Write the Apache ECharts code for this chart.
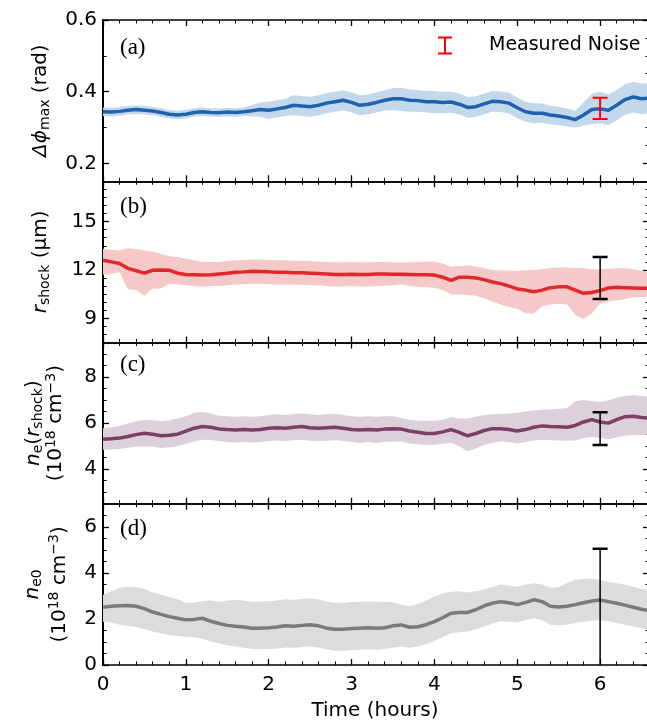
<!DOCTYPE html>
<html><head><meta charset="utf-8">
<script src="https://cdn.jsdelivr.net/npm/echarts@6/dist/echarts.min.js"></script>
<style>html,body{margin:0;padding:0;background:#fff}#c{width:647px;height:723px}</style>
</head><body><div id="c"></div>
<script>
// ---------------- data ----------------
const times = [0,0.1,0.2,0.3,0.4,0.5,0.6,0.7,0.8,0.9,1,1.1,1.2,1.3,1.4,1.5,1.6,1.7,1.8,1.9,2,2.1,2.2,2.3,2.4,2.5,2.6,2.7,2.8,2.9,3,3.1,3.2,3.3,3.4,3.5,3.6,3.7,3.8,3.9,4,4.1,4.2,4.3,4.4,4.5,4.6,4.7,4.8,4.9,5,5.1,5.2,5.3,5.4,5.5,5.6,5.7,5.8,5.9,6,6.1,6.2,6.3,6.4,6.5,6.59];

const aMean = [0.344,0.343,0.345,0.348,0.350,0.348,0.346,0.342,0.337,0.335,
 0.337,0.342,0.344,0.342,0.341,0.343,0.342,0.344,0.347,0.350,
 0.348,0.352,0.356,0.362,0.360,0.358,0.362,0.368,0.372,0.376,
 0.370,0.362,0.365,0.370,0.376,0.380,0.380,0.376,0.375,0.372,
 0.372,0.370,0.371,0.365,0.356,0.358,0.366,0.373,0.372,0.368,
 0.355,0.344,0.340,0.340,0.335,0.332,0.328,0.322,0.335,0.350,
 0.352,0.348,0.362,0.378,0.385,0.380,0.382];
const aHigh = [0.356,0.355,0.357,0.360,0.362,0.360,0.358,0.354,0.349,0.347,
 0.349,0.354,0.356,0.354,0.353,0.355,0.354,0.356,0.363,0.370,
 0.372,0.376,0.380,0.390,0.388,0.386,0.390,0.396,0.400,0.404,
 0.398,0.390,0.393,0.398,0.404,0.410,0.411,0.406,0.405,0.402,
 0.402,0.400,0.400,0.394,0.385,0.387,0.395,0.402,0.401,0.397,
 0.384,0.372,0.368,0.367,0.361,0.358,0.353,0.347,0.370,0.394,
 0.400,0.392,0.405,0.421,0.428,0.423,0.424];
const aLow = [0.332,0.331,0.333,0.336,0.338,0.336,0.334,0.330,0.325,0.323,
 0.325,0.330,0.332,0.330,0.329,0.331,0.330,0.332,0.331,0.330,
 0.324,0.328,0.332,0.334,0.332,0.330,0.334,0.340,0.344,0.348,
 0.342,0.334,0.337,0.342,0.348,0.348,0.346,0.344,0.344,0.342,
 0.340,0.340,0.341,0.336,0.327,0.329,0.337,0.344,0.343,0.339,
 0.326,0.316,0.312,0.313,0.309,0.306,0.303,0.300,0.305,0.310,
 0.312,0.306,0.320,0.335,0.342,0.337,0.340];

const bMean = [12.6,12.5,12.4,12.1,11.95,11.8,11.98,12.0,11.98,11.8,
 11.72,11.7,11.68,11.7,11.75,11.8,11.85,11.88,11.92,11.9,
 11.88,11.85,11.85,11.83,11.82,11.8,11.78,11.75,11.72,11.72,
 11.74,11.72,11.72,11.75,11.75,11.74,11.74,11.72,11.7,11.7,
 11.68,11.55,11.35,11.55,11.55,11.5,11.4,11.25,11.15,11.0,
 10.82,10.75,10.65,10.75,10.9,10.95,10.95,10.75,10.55,10.6,
 10.72,10.88,10.92,10.9,10.88,10.86,10.87];
const bHigh = [13.3,13.25,13.2,13.35,13.3,13.2,13.15,13.0,12.85,12.8,
 12.7,12.6,12.5,12.5,12.5,12.55,12.6,12.62,12.65,12.65,
 12.62,12.6,12.6,12.58,12.55,12.55,12.52,12.5,12.48,12.48,
 12.5,12.48,12.48,12.5,12.5,12.48,12.46,12.48,12.5,12.52,
 12.52,12.4,12.2,12.25,12.28,12.22,12.1,12.0,11.98,11.95,
 11.95,11.98,12.0,12.05,12.12,12.15,12.15,12.12,12.1,12.05,
 12.05,12.08,12.1,12.1,12.05,11.95,11.9];
const bLow = [11.7,11.75,11.85,10.8,10.75,10.4,10.85,10.85,11.15,11.1,
 11.05,11.0,10.95,11.0,11.0,11.05,11.1,11.12,11.15,11.15,
 11.12,11.1,11.1,11.08,11.08,11.05,11.05,11.0,10.98,10.98,
 11.0,10.98,10.98,11.0,11.02,11.05,11.1,11.0,10.95,10.92,
 10.9,10.75,10.5,10.5,10.45,10.4,10.25,10.05,9.85,9.7,
 9.6,9.3,9.3,9.75,9.85,9.9,9.85,9.2,8.96,9.3,
 9.9,10.05,10.1,10.2,10.3,10.32,10.35];

const cMean = [5.30,5.32,5.35,5.42,5.50,5.56,5.52,5.45,5.47,5.52,
 5.65,5.78,5.85,5.82,5.75,5.72,5.70,5.72,5.70,5.72,
 5.78,5.80,5.78,5.82,5.85,5.80,5.78,5.80,5.82,5.78,
 5.72,5.70,5.72,5.70,5.74,5.76,5.74,5.66,5.60,5.55,
 5.55,5.62,5.72,5.60,5.45,5.55,5.68,5.76,5.76,5.72,
 5.66,5.72,5.82,5.88,5.85,5.84,5.82,5.90,6.05,6.15,
 6.05,6.00,6.15,6.28,6.30,6.24,6.21];
const cHigh = [5.78,5.82,5.88,5.98,6.08,6.14,6.12,6.08,6.12,6.2,
 6.3,6.45,6.48,6.42,6.32,6.3,6.28,6.3,6.28,6.3,
 6.35,6.38,6.35,6.4,6.42,6.38,6.35,6.38,6.4,6.35,
 6.3,6.28,6.3,6.28,6.3,6.3,6.22,6.15,6.1,6.1,
 6.1,6.15,6.25,6.2,6.2,6.28,6.35,6.38,6.4,6.42,
 6.45,6.5,6.55,6.58,6.6,6.62,6.65,6.95,7.0,6.95,
 6.92,6.98,7.1,7.18,7.22,7.18,7.15];
const cLow = [4.84,4.86,4.88,4.93,4.98,5.0,4.98,4.92,4.95,5.0,
 5.1,5.2,5.28,5.27,5.22,5.18,5.16,5.18,5.16,5.18,
 5.22,5.25,5.22,5.26,5.28,5.24,5.22,5.24,5.26,5.22,
 5.18,5.15,5.18,5.15,5.18,5.2,5.2,5.12,5.08,5.05,
 5.05,5.1,5.15,5.0,4.78,4.9,5.05,5.15,5.2,5.18,
 5.12,5.18,5.25,5.28,5.26,5.25,5.24,5.25,5.35,5.4,
 5.35,5.3,5.38,5.45,5.48,5.48,5.5];

const dMean = [2.51,2.55,2.57,2.58,2.55,2.45,2.30,2.20,2.10,2.03,
 1.96,1.98,2.03,1.90,1.80,1.72,1.68,1.65,1.60,1.60,
 1.62,1.65,1.70,1.68,1.72,1.75,1.70,1.60,1.55,1.55,
 1.58,1.60,1.62,1.60,1.62,1.70,1.74,1.64,1.66,1.75,
 1.88,2.05,2.25,2.28,2.28,2.40,2.57,2.68,2.75,2.70,
 2.62,2.72,2.83,2.75,2.55,2.52,2.55,2.62,2.70,2.78,
 2.82,2.75,2.68,2.60,2.51,2.42,2.36];
const dHigh = [3.04,3.2,3.35,3.4,3.38,3.3,3.15,3.05,2.95,2.85,
 2.7,2.7,2.78,2.8,2.75,2.8,2.82,2.8,2.75,2.75,
 2.77,2.8,2.85,2.83,2.87,2.9,2.85,2.75,2.7,2.7,
 2.73,2.75,2.77,2.75,2.75,2.72,2.62,2.55,2.65,2.8,
 2.97,3.1,3.18,3.2,3.15,3.2,3.28,3.4,3.5,3.45,
 3.4,3.5,3.55,3.5,3.35,3.38,3.55,3.7,3.73,3.75,
 3.7,3.6,3.55,3.48,3.4,3.3,3.25];
const dLow = [1.88,1.85,1.75,1.7,1.65,1.55,1.45,1.38,1.3,1.26,
 1.23,1.2,1.15,1.02,0.94,0.85,0.8,0.75,0.7,0.68,
 0.7,0.72,0.76,0.75,0.78,0.8,0.76,0.68,0.62,0.62,
 0.65,0.66,0.68,0.66,0.7,0.76,0.8,0.75,0.8,0.9,
 1.05,1.2,1.38,1.42,1.45,1.55,1.67,1.8,1.9,1.88,
 1.85,1.95,2.03,1.95,1.75,1.72,1.75,1.82,1.88,1.92,
 1.95,1.9,1.82,1.75,1.67,1.6,1.55];

// error bars at t = 6 h : [t, low, high]
const errA = [[6, 0.324, 0.383]];
const errB = [[6, 10.2, 12.8]];
const errC = [[6, 5.05, 6.47]];
const errD = [[6, -0.6, 5.05]];

// tick values
const xRange = [0, 6.59];
const xMajor = [0, 1, 2, 3, 4, 5, 6];
const xMinor = [0.2,0.4,0.6,0.8,1.2,1.4,1.6,1.8,2.2,2.4,2.6,2.8,3.2,3.4,3.6,3.8,4.2,4.4,4.6,4.8,5.2,5.4,5.6,5.8,6.2,6.4];
const yMajorA = [0.2, 0.4, 0.6], yMinorA = [0.3, 0.5];
const yMinorAR = [0.25, 0.3, 0.35, 0.45, 0.5, 0.55];
const yMajorB = [9, 12, 15], yMinorB = [8, 8.5, 9.5, 10, 10.5, 11, 11.5, 12.5, 13, 13.5, 14, 14.5, 15.5, 16, 16.5, 17];
const yMajorC = [4, 6, 8], yMinorC = [3, 3.5, 4.5, 5, 5.5, 6.5, 7, 7.5, 8.5, 9];
const yMajorD = [0, 2, 4, 6], yMinorD = [0.5, 1, 1.5, 2.5, 3, 3.5, 4.5, 5, 5.5, 6.5];
const yRanges = [[0.15, 0.6], [7.5, 17.5], [2.5, 9.5], [0, 7]];

// ---------------- chart ----------------
const FONT = 'DejaVu Sans';
const GRID_TOP = [20, 181.25, 342.5, 503.75];
const GRID_H = 161.25;

const panels = [
  {mean: aMean, high: aHigh, low: aLow, err: errA, maj: yMajorA, min: yMinorA, minR: yMinorAR,
   line: '#1f63ae', band: '#c4d8ec', errColor: '#ff0000', errName: 'Measured Noise', capW: 15, errLW: 2, capLW: 2,
   name: '{it|\u0394\u03d5}{sub|max}{n| (rad)}', nameGap: 50, lh: 24},
  {mean: bMean, high: bHigh, low: bLow, err: errB, maj: yMajorB, min: yMinorB, minR: yMinorB,
   line: '#e2282c', band: '#f6c9c9', errColor: '#000', errName: 'errB', capW: 15, errLW: 1.5, capLW: 2.5,
   name: '{it|r}{sub|shock}{n| (\u03bcm)}', nameGap: 50, lh: 24},
  {mean: cMean, high: cHigh, low: cLow, err: errC, maj: yMajorC, min: yMinorC, minR: yMinorC,
   line: '#7b3f68', band: '#ddd0da', errColor: '#000', errName: 'errC', capW: 15, errLW: 1.5, capLW: 2.5,
   name: '{it|n}{sub|e}{n|(}{it|r}{sub|shock}{n|)}\n{n|(10}{sup|18}{n| cm}{sup|\u22123}{n|)}', nameGap: 36, lh: 22},
  {mean: dMean, high: dHigh, low: dLow, err: errD, maj: yMajorD, min: yMinorD, minR: yMinorD,
   line: '#7a7a7a', band: '#dcdcdc', errColor: '#000', errName: 'errD', capW: 15, errLW: 1.5, capLW: 2.5,
   name: '{it|n}{sub|e0}\n{n|(10}{sup|18}{n| cm}{sup|\u22123}{n|)}', nameGap: 30, lh: 27}
];

function rich(lh) {
  return {
    it: {fontFamily: FONT, fontStyle: 'italic', fontSize: 20, color: '#000', lineHeight: lh},
    n: {fontFamily: FONT, fontSize: 20, color: '#000', lineHeight: lh},
    sub: {fontFamily: FONT, fontSize: 14, color: '#000', padding: [9, 0, 0, 0], lineHeight: lh},
    sup: {fontFamily: FONT, fontSize: 14, color: '#000', padding: [0, 0, 10, 0], lineHeight: lh}
  };
}

const TICK = {color: '#000', width: 1.3};
const MTICK = {color: '#000', width: 1};
const grid = [], xAxis = [], yAxis = [], series = [];
panels.forEach((p, i) => {
  grid.push({left: 103, top: GRID_TOP[i], width: 546, height: GRID_H, containLabel: false, outerBoundsMode: 'none'});
  ['bottom', 'top'].forEach(pos => {
    const xb = {gridIndex: i, type: 'value', min: xRange[0], max: xRange[1], position: pos,
      splitLine: {show: false}, minorSplitLine: {show: false}, minorTick: {show: false}};
    xAxis.push(Object.assign({}, xb, {
      axisLine: {show: true, onZero: false, lineStyle: {color: '#000', width: 1.6}},
      axisTick: {show: true, inside: true, length: 6, customValues: xMajor, lineStyle: TICK},
      axisLabel: {show: pos === 'bottom' && i === 3, customValues: xMajor, margin: 10, fontSize: 20, fontFamily: FONT, color: '#000'}
    }));
    xAxis.push(Object.assign({}, xb, {
      axisLine: {show: false, onZero: false},
      axisTick: {show: true, inside: true, length: 3.5, customValues: xMinor, lineStyle: MTICK},
      axisLabel: {show: false}
    }));
  });
  const base = {gridIndex: i, type: 'value', min: yRanges[i][0], max: yRanges[i][1],
    splitLine: {show: false}, minorTick: {show: false}};
  yAxis.push(Object.assign({}, base, {
    position: 'left',
    axisLine: {show: true, onZero: false, lineStyle: {color: '#000', width: 2}},
    axisTick: {show: true, inside: true, length: 6, customValues: p.maj, lineStyle: TICK},
    axisLabel: {show: true, customValues: p.maj, margin: 6, fontSize: 20, fontFamily: FONT, color: '#000'},
    name: p.name, nameLocation: 'middle', nameGap: p.nameGap, nameRotate: 90,
    nameTextStyle: {fontFamily: FONT, fontSize: 20, color: '#000', lineHeight: p.lh, rich: rich(p.lh)}
  }));
  yAxis.push(Object.assign({}, base, {
    position: 'left', axisLine: {show: false, onZero: false},
    axisTick: {show: true, inside: true, length: 3.5, customValues: p.min, lineStyle: MTICK},
    axisLabel: {show: false}
  }));
  yAxis.push(Object.assign({}, base, {
    position: 'right',
    axisLine: {show: true, onZero: false, lineStyle: {color: '#000', width: 2}},
    axisTick: {show: true, inside: true, length: 6, customValues: p.maj, lineStyle: TICK},
    axisLabel: {show: false}
  }));
  yAxis.push(Object.assign({}, base, {
    position: 'right', axisLine: {show: false, onZero: false},
    axisTick: {show: true, inside: true, length: 3.5, customValues: p.minR, lineStyle: MTICK},
    axisLabel: {show: false}
  }));

  const xi = 4 * i, yi = 4 * i;
  // shaded band: polygon through the upper edge then back along the lower edge
  series.push({
    type: 'custom', xAxisIndex: xi, yAxisIndex: yi, clip: true, z: 1, silent: true,
    data: times.map((t, k) => [t, p.low[k], p.high[k]]),
    renderItem: function (params, api) {
      if (params.dataIndex !== 0) return null;
      const pts = [];
      for (let k = 0; k < times.length; k++) pts.push(api.coord([times[k], p.high[k]]));
      for (let k = times.length - 1; k >= 0; k--) pts.push(api.coord([times[k], p.low[k]]));
      return {type: 'polygon', shape: {points: pts}, style: {fill: p.band, stroke: null}};
    }
  });
  series.push({
    type: 'line', xAxisIndex: xi, yAxisIndex: yi, symbol: 'none', silent: true,
    lineStyle: {width: 3.5, color: p.line}, z: 2,
    data: times.map((t, k) => [t, p.mean[k]])
  });
  series.push({
    type: 'custom', name: p.errName, xAxisIndex: xi, yAxisIndex: yi, clip: true, z: 3, silent: true,
    itemStyle: {color: p.errColor},
    data: p.err,
    renderItem: function (params, api) {
      const x = api.value(0), lo = api.value(1), hi = api.value(2);
      const a = api.coord([x, hi]), b = api.coord([x, lo]);
      const st = {stroke: p.errColor, lineWidth: p.errLW};
      const cs = {stroke: p.errColor, lineWidth: p.capLW};
      const w = p.capW / 2;
      return {type: 'group', children: [
        {type: 'line', shape: {x1: a[0], y1: a[1], x2: b[0], y2: b[1]}, style: st},
        {type: 'line', shape: {x1: a[0] - w, y1: a[1], x2: a[0] + w, y2: a[1]}, style: cs},
        {type: 'line', shape: {x1: b[0] - w, y1: b[1], x2: b[0] + w, y2: b[1]}, style: cs}
      ]};
    }
  });
});

const panelLabels = ['(a)', '(b)', '(c)', '(d)'];
const labelY = [48, 207, 365, 529];

const option = {
  animation: false,
  backgroundColor: '#fff',
  grid, xAxis, yAxis, series,
  legend: {
    data: [{name: 'Measured Noise', itemStyle: {color: '#ff0000'}}],
    left: 438, top: 36, padding: 0, itemGap: 0,
    itemWidth: 14, itemHeight: 18,
    icon: 'path://M0,0H14V2H8V16H14V18H0V16H6V2H0Z',
    textStyle: {fontFamily: FONT, fontSize: 19, color: '#000', padding: [0, 0, 0, 32]}
  },
  graphic: panelLabels.map((t, i) => ({
    type: 'text', left: 120, top: labelY[i] - 12, silent: true,
    style: {text: t, fontFamily: 'Liberation Serif', fontSize: 23, fill: '#000'}
  })).concat([{
    type: 'text', x: 375, y: 711, silent: true,
    style: {text: 'Time (hours)', fontFamily: FONT, fontSize: 20, fill: '#000', align: 'center', verticalAlign: 'middle'}
  }])
};

const chart = echarts.init(document.getElementById('c'));
chart.setOption(option);
</script>
</body></html>
